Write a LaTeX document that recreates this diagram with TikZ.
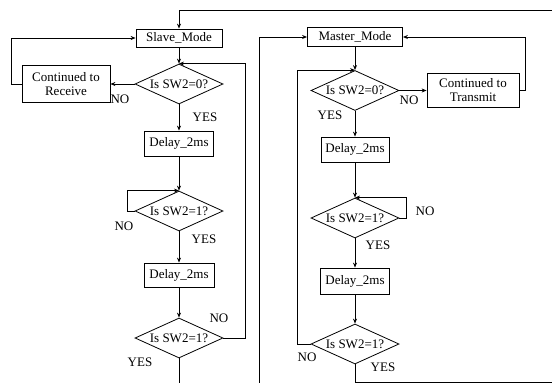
\documentclass[tikz,border=0pt]{standalone}
\usepackage{fontspec}
\setmainfont{Liberation Serif}
\usetikzlibrary{shapes.geometric,arrows.meta}
\begin{document}
\begin{tikzpicture}[x=1pt,y=-1pt,
  every node/.style={font=\fontsize{13}{14}\selectfont},
  box/.style={draw, rectangle, inner sep=0pt, line width=0.8pt},
  dec/.style={draw, diamond, aspect=2.2, inner sep=0pt, minimum width=88pt, minimum height=40pt, line width=0.8pt},
  lbl/.style={inner sep=0pt},
  flow/.style={line width=0.8pt, -{Stealth[length=5pt,width=4pt]}},
  plain/.style={line width=0.8pt}]
\useasboundingbox (0,0) rectangle (552,383);

% left column
\node[box, minimum width=86pt, minimum height=18pt] (slave) at (179,38) {Slave\_Mode};
\node[box, minimum width=88pt, minimum height=37pt, align=center] (recv) at (66,84) {Continued to\\Receive};
\node[dec] (d1) at (179,84) {Is SW2=0?};
\node[box, minimum width=69pt, minimum height=25pt] (del1) at (179,143.5) {Delay\_2ms};
\node[dec] (d2) at (179,211) {Is SW2=1?};
\node[box, minimum width=70pt, minimum height=24pt] (del2) at (179,275) {Delay\_2ms};
\node[dec] (d3) at (179,338) {Is SW2=1?};

% right column
\node[box, minimum width=95pt, minimum height=19pt] (master) at (355,37) {Master\_Mode};
\node[dec] (m1) at (355,90.5) {Is SW2=0?};
\node[box, minimum width=92pt, minimum height=34pt, align=center] (trans) at (473,90.5) {Continued to\\Transmit};
\node[box, minimum width=68pt, minimum height=25pt] (mdel1) at (355,149.5) {Delay\_2ms};
\node[dec] (m2) at (355,218) {Is SW2=1?};
\node[box, minimum width=69pt, minimum height=26pt] (mdel2) at (355,281) {Delay\_2ms};
\node[dec] (m3) at (355,344) {Is SW2=1?};

\coordinate (topR) at (552,10);
\coordinate (botR) at (552,382);
\coordinate (botL) at (179,383);
\coordinate (botM) at (259,383);

% left connectors
\draw[flow] (topR) -| (slave.north);
\draw[flow] (recv.west) -- ++(-10,0) |- (slave.west);
\draw[flow] (slave.south) -- (d1.north);
\draw[flow] (d1.west) -- (recv.east);
\draw[flow] (d1.south) -- (del1.north);
\draw[flow] (del1.south) -- (d2.north);
\draw[flow] (d2.west) -- ++(-7,0) |- (d2.north);
\draw[flow] (d2.south) -- (del2.north);
\draw[flow] (del2.south) -- (d3.north);
\draw[flow] (d3.east) -- ++(22,0) |- (d1.north);
\draw[plain] (d3.south) -- (botL);

% right connectors
\draw[flow] (botM) |- (master.west);
\draw[flow] (master.south) -- (m1.north);
\draw[flow] (m1.east) -- (trans.west);
\draw[flow] (trans.east) -- ++(6,0) |- (master.east);
\draw[flow] (m1.south) -- (mdel1.north);
\draw[flow] (mdel1.south) -- (m2.north);
\draw[flow] (m2.east) -- ++(7,0) |- (m2.north);
\draw[flow] (m2.south) -- (mdel2.north);
\draw[flow] (mdel2.south) -- (m3.north);
\draw[flow] (m3.west) -- ++(-13,0) |- (m1.north);
\draw[plain] (m3.south) |- (botR);

% labels
\node[lbl] (n1) at (120,99) {NO};
\node[lbl] (y1) at (205,117) {YES};
\node[lbl] (n2) at (124,226) {NO};
\node[lbl] (y2) at (204,239) {YES};
\node[lbl] (n3) at (219,318) {NO};
\node[lbl] (y3) at (140,362) {YES};
\node[lbl] (n4) at (409,100) {NO};
\node[lbl] (y4) at (330,115) {YES};
\node[lbl] (n5) at (425,211) {NO};
\node[lbl] (y5) at (378,245) {YES};
\node[lbl] (n6) at (307,357) {NO};
\node[lbl] (y6) at (383,367) {YES};
\end{tikzpicture}
\end{document}
